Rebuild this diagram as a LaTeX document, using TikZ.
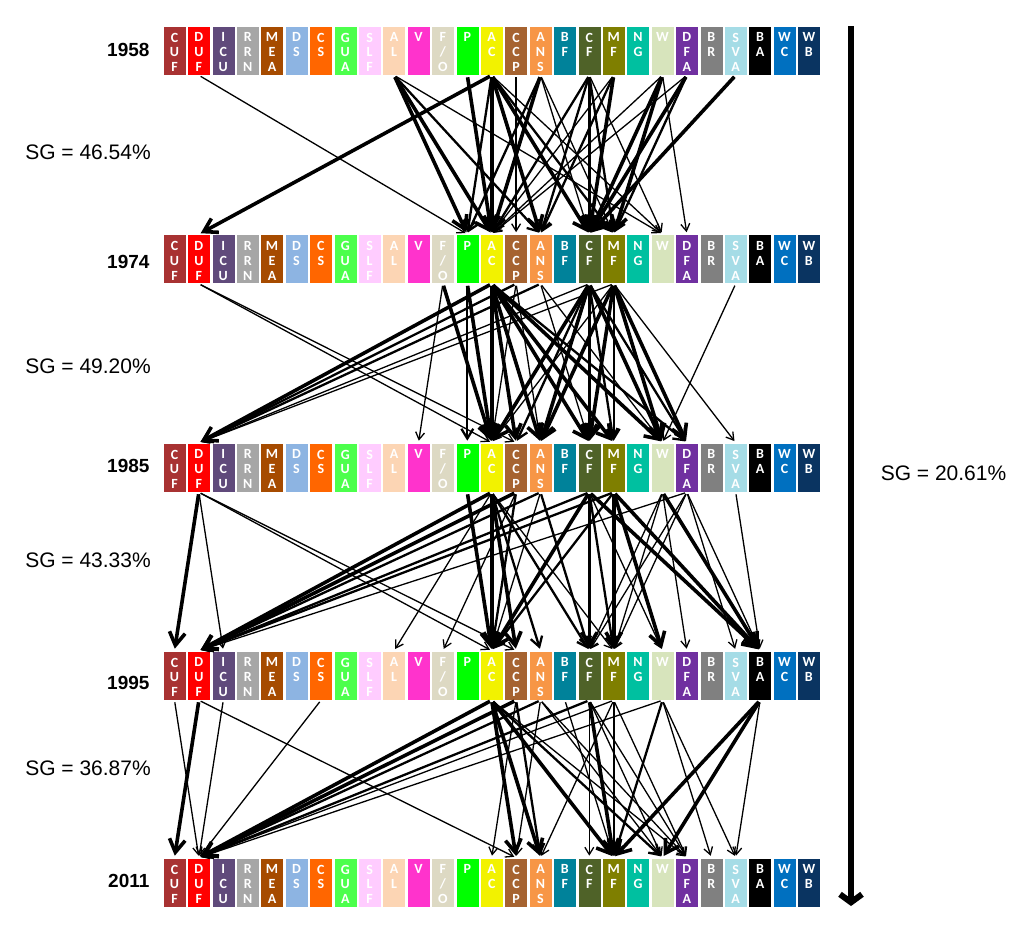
\documentclass[tikz,border=0pt]{standalone}
\usepackage{fontspec}
\setmainfont{Liberation Sans}
\newfontfamily\boxfont{Carlito}
\usetikzlibrary{arrows.meta}
\definecolor{c0}{HTML}{A83232}
\definecolor{c1}{HTML}{FF0000}
\definecolor{c2}{HTML}{604A7B}
\definecolor{c3}{HTML}{A6A6A6}
\definecolor{c4}{HTML}{A64B00}
\definecolor{c5}{HTML}{8DB4E2}
\definecolor{c6}{HTML}{FF6600}
\definecolor{c7}{HTML}{4CFF4C}
\definecolor{c8}{HTML}{FFCCFF}
\definecolor{c9}{HTML}{FCD5B4}
\definecolor{c10}{HTML}{FF33CC}
\definecolor{c11}{HTML}{DDD9C3}
\definecolor{c12}{HTML}{00FF00}
\definecolor{c13}{HTML}{F2F200}
\definecolor{c14}{HTML}{A66330}
\definecolor{c15}{HTML}{F79646}
\definecolor{c16}{HTML}{00829A}
\definecolor{c17}{HTML}{4F6228}
\definecolor{c18}{HTML}{7F7F00}
\definecolor{c19}{HTML}{00C0A0}
\definecolor{c20}{HTML}{D7E4BC}
\definecolor{c21}{HTML}{7030A0}
\definecolor{c22}{HTML}{808080}
\definecolor{c23}{HTML}{A5DCE6}
\definecolor{c24}{HTML}{000000}
\definecolor{c25}{HTML}{0070C0}
\definecolor{c26}{HTML}{0A3461}
\tikzset{
  catbox/.style={draw=white, line width=0.6pt, minimum width=23pt, minimum height=49pt, inner sep=0pt},
  boxtext/.style={anchor=north, yshift=-7pt, align=center, inner sep=0pt, text=white,
    font=\boxfont\bfseries\fontsize{14}{14.8}\selectfont},
  yearlab/.style={anchor=east, font=\bfseries\fontsize{19}{22}\selectfont},
  sglab/.style={font=\fontsize{21}{24}\selectfont},
  flow/.style={-{Straight Barb[length=4pt 2.5, width=5pt 3]}, shorten <=2pt, shorten >=2pt},
  bigflow/.style={line width=6pt, -{Straight Barb[length=8pt, width=22pt]}}
}
\begin{document}
\begin{tikzpicture}[x=1pt,y=-1pt]
\useasboundingbox (0,0) rectangle (1024,932);
% rows of category boxes
\foreach \r/\top in {1/26,2/234.5,3/443,4/651,5/858}{
  \foreach \lab [count=\i from 0] in {{C\\U\\F},{D\\U\\F},{I\\C\\U},{R\\R\\N},{M\\E\\A},{D\\S},{C\\S},{G\\U\\A},{S\\L\\F},{A\\L},{V},{F\\/\\O},{P},{A\\C},{C\\C\\P},{A\\N\\S},{B\\F},{C\\F},{M\\F},{N\\G},{W},{D\\F\\A},{B\\R},{S\\V\\A},{B\\A},{W\\C},{W\\B}}{
    \node[catbox, fill=c\i, label={[boxtext]north:\lab}] (r\r c\i) at ({174.5+24.4*\i},{\top+24.5}) {};
  }
}
% year labels
\node[yearlab] (y1) at (153,50) {1958};
\node[yearlab] (y2) at (153,262) {1974};
\node[yearlab] (y3) at (153,466) {1985};
\node[yearlab] (y4) at (153,683) {1995};
\node[yearlab] (y5) at (153,881) {2011};
% SG labels
\node[sglab] (sg1) at (88,152) {SG = 46.54\%};
\node[sglab] (sg2) at (88,366) {SG = 49.20\%};
\node[sglab] (sg3) at (88,560) {SG = 43.33\%};
\node[sglab] (sg4) at (88,768) {SG = 36.87\%};
\node[sglab] (sgall) at (943.5,473) {SG = 20.61\%};
% overall arrow
\coordinate (bigA) at (851,26);
\coordinate (bigB) at (851,906);
\draw[bigflow] (bigA) -- (bigB);
% 1958 -> 1974
\foreach \s/\t/\w in {1/12/1.3, 9/12/3.6, 9/13/3.6, 9/15/2.3, 9/20/1.3, 12/13/3.6,
  13/1/3.6, 13/12/2.3, 13/13/3.6, 13/15/3.6, 13/17/3.6, 13/18/2.3, 13/20/1.3, 14/14/1.3,
  15/12/2.3, 15/13/3.6, 15/17/1.3, 15/18/1.3, 17/13/2.3, 17/15/2.3, 17/17/3.6, 17/18/2.3, 17/20/1.3,
  18/13/1.3, 18/15/2.3, 18/17/3.6, 20/13/1.3, 20/17/3.6, 20/18/3.6, 20/21/1.3,
  21/17/3.6, 21/18/2.3, 21/13/1.3, 23/17/3.6}{
  \draw[flow, line width=\w pt] (r1c\s.south) -- (r2c\t.north);
}
% 1974 -> 1985
\foreach \s/\t/\w in {1/13/1.3, 1/14/1.3, 11/10/1.3, 11/13/3.6, 12/12/2.3, 12/13/3.6,
  13/1/3.6, 13/13/3.6, 13/14/3.6, 13/15/3.6, 13/17/3.6, 13/18/3.6, 13/20/3.6, 13/21/2.3,
  14/1/2.3, 14/13/1.3, 14/15/1.3, 15/1/2.3, 15/17/1.3, 15/20/1.3,
  17/1/1.3, 17/13/3.6, 17/14/2.3, 17/15/3.6, 17/17/3.6, 17/18/2.3, 17/20/3.6, 17/21/2.3,
  18/1/1.3, 18/13/1.3, 18/15/3.6, 18/17/3.6, 18/18/2.3, 18/20/3.6, 18/21/3.6, 18/23/1.3, 23/20/1.3}{
  \draw[flow, line width=\w pt] (r2c\s.south) -- (r3c\t.north);
}
% 1985 -> 1995
\foreach \s/\t/\w in {1/0/3.6, 1/2/1.3, 1/13/1.3, 1/14/1.3, 12/13/3.6,
  13/1/3.6, 13/9/1.3, 13/13/3.6, 13/14/3.6, 13/15/2.3, 13/17/2.3, 13/18/1.3,
  14/1/3.6, 14/11/1.3, 14/13/2.3, 15/1/2.3, 15/13/1.3, 15/17/2.3,
  17/1/2.3, 17/13/3.6, 17/17/3.6, 17/18/2.3, 17/20/1.3, 17/24/3.6,
  18/1/2.3, 18/13/2.3, 18/18/3.6, 18/20/3.6, 18/24/3.6,
  20/17/1.3, 20/18/1.3, 20/21/1.3, 20/24/3.6,
  21/1/1.3, 21/17/1.3, 21/18/1.3, 21/23/1.3, 21/24/1.3, 23/24/1.3}{
  \draw[flow, line width=\w pt] (r3c\s.south) -- (r4c\t.north);
}
% 1995 -> 2011
\foreach \s/\t/\w in {0/1/1.3, 1/0/3.6, 2/1/1.3, 6/1/1.3, 1/14/1.3,
  13/1/3.6, 13/14/3.6, 13/15/3.6, 13/18/3.6, 13/20/2.3, 13/21/1.3,
  14/1/3.6, 14/13/1.3, 14/15/2.3, 15/1/2.3, 15/14/1.3, 15/20/1.3, 15/21/1.3, 16/18/1.3,
  17/1/2.3, 17/17/1.3, 17/18/3.6, 17/20/1.3, 17/21/1.3,
  18/1/1.3, 18/15/1.3, 18/18/2.3, 18/21/1.3,
  20/1/1.3, 20/18/2.3, 20/22/1.3, 20/23/1.3, 24/18/3.6, 24/20/3.6, 24/23/1.3}{
  \draw[flow, line width=\w pt] (r4c\s.south) -- (r5c\t.north);
}
\end{tikzpicture}
\end{document}
